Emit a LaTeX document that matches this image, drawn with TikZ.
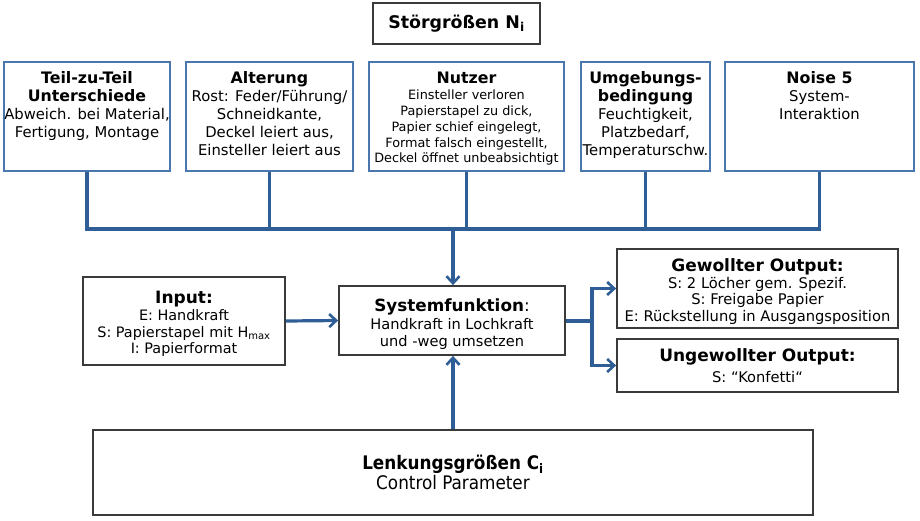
\documentclass[tikz,border=0pt]{standalone}
\usepackage{fontspec}
\setmainfont{DejaVu Sans}
\newfontfamily\condfont{DejaVu Sans Condensed}
\usetikzlibrary{arrows.meta}
\definecolor{conblue}{HTML}{2F5E96}
\definecolor{boxblue}{HTML}{4A78AE}
\definecolor{boxgray}{HTML}{3A3A3A}
\tikzset{
  bluebox/.style={draw=boxblue, line width=1.8pt, minimum height=109pt, inner sep=0pt},
  graybox/.style={draw=boxgray, line width=1.8pt, align=center, inner sep=0pt},
  midtxt/.style={align=center, inner sep=0pt},
  toptxt/.style={anchor=north, align=center, inner sep=0pt, font=\fontsize{14.8}{18}\selectfont},
  conn/.style={draw=conblue, line width=3.2pt},
  arr/.style={conn, -{Straight Barb[length=7pt,width=13pt,line width=2.6pt]}}
}
\newcommand{\ttl}[1]{{\fontsize{15.8}{18}\selectfont\bfseries #1}}
\newcommand{\btl}[1]{{\fontsize{17}{19}\selectfont\bfseries #1}}
\begin{document}
\begin{tikzpicture}[x=1pt,y=-1pt]
\useasboundingbox (0,0) rectangle (920,520);
% Stoergroessen
\node[graybox, minimum width=167pt, minimum height=41pt] (st) at (456.5,23.5)
  {\fontsize{17.4}{19}\selectfont\bfseries Störgrößen N\textsubscript{i}};
% top boxes
\node[bluebox, minimum width=166pt] (b1) at (87,116.5) {};
\node[bluebox, minimum width=167pt] (b2) at (269.5,116.5) {};
\node[bluebox, minimum width=195pt] (b3) at (466.5,116.5) {};
\node[bluebox, minimum width=129pt] (b4) at (645.5,116.5) {};
\node[bluebox, minimum width=189pt] (b5) at (819.5,116.5) {};
\node[toptxt] (t1) at ([yshift=-10pt]b1.north) {\ttl{Teil-zu-Teil}\\\ttl{Unterschiede}\\Abweich. bei Material,\\Fertigung, Montage};
\node[toptxt] (t2) at ([yshift=-10pt]b2.north) {\ttl{Alterung}\\Rost: Feder/Führung/\\Schneidkante,\\Deckel leiert aus,\\Einsteller leiert aus};
\node[toptxt, font=\fontsize{12.8}{15.8}\selectfont] (t3) at ([yshift=-11pt]b3.north) {{\fontsize{15.8}{15.8}\selectfont\bfseries Nutzer}\\Einsteller verloren\\Papierstapel zu dick,\\Papier schief eingelegt,\\Format falsch eingestellt,\\Deckel öffnet unbeabsichtigt};
\node[toptxt] (t4) at ([yshift=-10pt]b4.north) {\ttl{Umgebungs-}\\\ttl{bedingung}\\Feuchtigkeit,\\Platzbedarf,\\Temperaturschw.};
\node[toptxt] (t5) at ([yshift=-10pt]b5.north) {\ttl{Noise 5}\\System-\\Interaktion};
% middle boxes
\node[graybox, minimum width=202pt, minimum height=88pt] (inp) at (184,321) {};
\node[midtxt, font=\fontsize{14.4}{16.8}\selectfont] (inpt) at ([yshift=-3pt]inp.center)
  {\btl{Input:}\\E: Handkraft\\S: Papierstapel mit H\textsubscript{max}\\I: Papierformat};
\node[graybox, minimum width=226pt, minimum height=69pt] (sys) at (452,320.5) {};
\node[midtxt, font=\fontsize{14.6}{17.5}\selectfont] (syst) at ([yshift=-4pt]sys.center)
  {{\fontsize{16.8}{19}\selectfont\textbf{Systemfunktion}:}\\Handkraft in Lochkraft\\und -weg umsetzen};
\node[graybox, minimum width=281pt, minimum height=79pt] (gew) at (757.5,288.5) {};
\node[midtxt, font=\fontsize{14.7}{16.8}\selectfont] (gewt) at ([yshift=-3pt]gew.center)
  {\btl{Gewollter Output:}\\S: 2 Löcher gem. Spezif.\\S: Freigabe Papier\\E: Rückstellung in Ausgangsposition};
\node[graybox, minimum width=281pt, minimum height=53pt, font=\fontsize{14.7}{21}\selectfont] (ung) at (757.5,365.5)
  {\btl{Ungewollter Output:}\\S: “Konfetti“};
\node[graybox, minimum width=720pt, minimum height=85pt, font=\condfont\fontsize{18.7}{20}\selectfont] (lenk) at (453,472.5)
  {\textbf{Lenkungsgrößen C\textsubscript{i}}\\Control Parameter};
% connectors
\coordinate (bus) at (453,229);
\draw[conn] (b1.south) -- (b1.south |- bus) -- (b5.south |- bus) -- (b5.south);
\draw[conn] (b2.south) -- (b2.south |- bus);
\draw[conn] (b3.south) -- (b3.south |- bus);
\draw[conn] (b4.south) -- (b4.south |- bus);
\draw[arr] (bus) -- (bus |- sys.north);
\draw[arr] (inp.east) -- (sys.west);
\coordinate (br) at (592,321);
\draw[conn] (sys.east |- br) -- (br);
\draw[arr] (br) |- (gew.west);
\draw[arr] (br) |- (ung.west);
\draw[arr] (lenk.north) -- (lenk.north |- sys.south);
\end{tikzpicture}
\end{document}
